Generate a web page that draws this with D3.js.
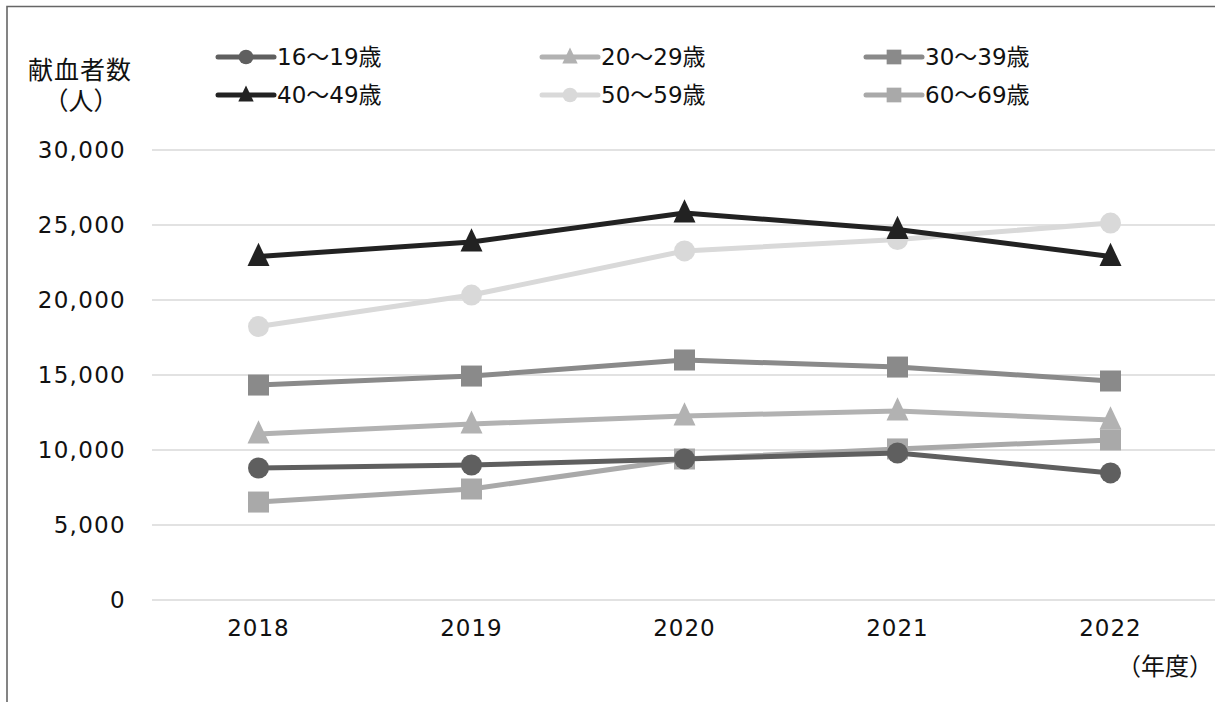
<!DOCTYPE html>
<html><head><meta charset="utf-8">
<script src="https://cdn.jsdelivr.net/npm/d3@7"></script>
<style>body{margin:0;background:#fff;}svg{display:block;font-family:"DejaVu Sans","Noto Sans CJK JP",sans-serif;}</style>
</head><body>
<svg id="c" width="1215" height="702"></svg>
<script>
const years = ["2018","2019","2020","2021","2022"];
const seriesNames = ["16～19歳","20～29歳","30～39歳","40～49歳","50～59歳","60～69歳"];
const v16_19 = [8800, 9000, 9400, 9800, 8470];
const v20_29 = [11070, 11730, 12270, 12600, 12000];
const v30_39 = [14330, 14930, 16000, 15530, 14600];
const v40_49 = [22900, 23870, 25800, 24700, 22900];
const v50_59 = [18230, 20330, 23270, 24030, 25130];
const v60_69 = [6530, 7400, 9400, 10070, 10670];
const yTicks = [0, 5000, 10000, 15000, 20000, 25000, 30000];

const colors = ["#5f5f5f","#b2b2b2","#8a8a8a","#222222","#d9d9d9","#a9a9a9"];
const shapes = ["circle","triangle","square","triangle","circle","square"];
const values = [v16_19, v20_29, v30_39, v40_49, v50_59, v60_69];
const series = seriesNames.map((n,i)=>({name:n, values:values[i], color:colors[i], shape:shapes[i]}));
const drawOrder = [4,3,2,1,5,0];

const svg = d3.select("#c");
svg.append("path").attr("d","M7,702 L7,6.5 L1215,6.5").attr("fill","none").attr("stroke","#666").attr("stroke-width",1.6);

const x = d3.scaleBand().domain(years).range([152,1217]);
const y = d3.scaleLinear().domain([0,30000]).range([600,150]);

svg.append("g").selectAll("line").data(yTicks).join("line")
  .attr("x1",152).attr("x2",1215).attr("y1",d=>y(d)).attr("y2",d=>y(d))
  .attr("stroke","#d9d9d9").attr("stroke-width",1.5);

const fs = 23;
const fmt = d3.format(",");
svg.append("g").selectAll("text").data(yTicks).join("text")
  .attr("x",126).attr("y",d=>y(d)).attr("dy","0.35em").attr("text-anchor","end")
  .attr("font-size",fs).attr("letter-spacing","1.3px").attr("fill","#111").text(d=>fmt(d));

svg.append("g").selectAll("text").data(years).join("text")
  .attr("x",d=>x(d)+x.bandwidth()/2).attr("y",628).attr("dy","0.35em").attr("text-anchor","middle")
  .attr("font-size",fs).attr("letter-spacing","1px").attr("fill","#111").text(d=>d);

svg.append("text").attr("x",1213).attr("y",667).attr("dy","0.35em").attr("text-anchor","end")
  .attr("font-size",24).attr("fill","#111").text("（年度）");

svg.append("text").attr("x",80).attr("y",70).attr("dy","0.35em").attr("text-anchor","middle")
  .attr("font-size",25).attr("letter-spacing","1px").attr("fill","#111").text("献血者数");
svg.append("text").attr("x",81).attr("y",101).attr("dy","0.35em").attr("text-anchor","middle")
  .attr("font-size",25).attr("fill","#111").text("（人）");

function marker(g, shape, cx, cy, color, s){
  if(shape==="circle"){
    g.append("circle").attr("cx",cx).attr("cy",cy).attr("r",10.5*s).attr("fill",color);
  } else if(shape==="square"){
    g.append("rect").attr("x",cx-10.5*s).attr("y",cy-10.5*s).attr("width",21*s).attr("height",21*s).attr("fill",color);
  } else {
    const h=21*s, w=22*s;
    g.append("path").attr("d",`M${cx},${cy-h*0.65} L${cx+w/2},${cy+h*0.45} L${cx-w/2},${cy+h*0.45} Z`).attr("fill",color);
  }
}

const line = d3.line().x((d,i)=>x(years[i])+x.bandwidth()/2).y(d=>y(d));
drawOrder.forEach(idx=>{
  const s = series[idx];
  const g = svg.append("g");
  g.append("path").attr("d",line(s.values)).attr("fill","none").attr("stroke",s.color)
    .attr("stroke-width",5).attr("stroke-linejoin","round");
  s.values.forEach((v,i)=>marker(g, s.shape, x(years[i])+x.bandwidth()/2, y(v), s.color, 1));
});

const legX = [218, 542, 866];
const legY = [57, 95];
series.forEach((s,i)=>{
  const col = i%3, row = Math.floor(i/3);
  const lx = legX[col], ly = legY[row];
  const g = svg.append("g");
  g.append("line").attr("x1",lx).attr("x2",lx+56).attr("y1",ly).attr("y2",ly)
    .attr("stroke",s.color).attr("stroke-width",5).attr("stroke-linecap","round");
  marker(g, s.shape, lx+28, ly, s.color, 0.7);
  g.append("text").attr("x",lx+59).attr("y",ly).attr("dy","0.35em").attr("font-size",fs)
    .attr("fill","#111").text(s.name);
});
</script>
</body></html>
